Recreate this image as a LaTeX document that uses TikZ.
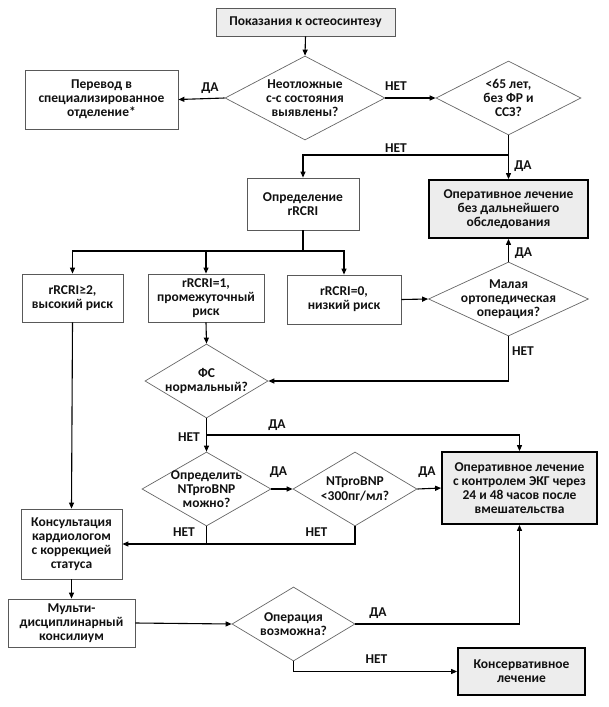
\documentclass[tikz,border=0pt]{standalone}
\usepackage{fontspec}
\setmainfont{Carlito}
\usetikzlibrary{arrows.meta,shapes.geometric,calc}
\definecolor{boxgray}{HTML}{EDEDED}
\definecolor{txt}{HTML}{111111}
\begin{document}
\begin{tikzpicture}[x=1pt,y=-1pt,
  every node/.style={font=\bfseries\fontsize{13.5}{14.2}\selectfont, text=txt},
  box/.style={draw=black!65, line width=0.8pt, align=center, inner sep=1pt},
  gbox/.style={box, fill=boxgray},
  tbox/.style={draw=black, line width=1.8pt, fill=boxgray, align=center, inner sep=1pt},
  dia/.style={diamond, draw=black!60, line width=0.7pt, inner sep=0pt},
  dlab/.style={align=center, inner sep=0pt},
  lab/.style={inner sep=0pt},
  arr/.style={-{Triangle[length=6pt,width=5pt]}, line width=1.1pt},
  plain/.style={line width=1.1pt}]
\useasboundingbox (0,0) rectangle (609,707);

% boxes
\node[gbox, minimum width=179pt, minimum height=28pt] (start) at (305.5,22) {Показания к остеосинтезу};
\node[box, minimum width=153pt, minimum height=59pt] (perevod) at (101.5,99.5) {Перевод в\\специализированное\\отделение*};
\node[box, minimum width=112pt, minimum height=52pt] (rcri) at (303,204) {Определение\\rRCRI};
\node[tbox, minimum width=159pt, minimum height=58pt] (op1) at (508.5,209) {Оперативное лечение\\без дальнейшего\\обследования};
\node[box, minimum width=101pt, minimum height=48pt] (r2) at (72.5,298) {rRCRI≥2,\\высокий риск};
\node[box, minimum width=116pt, minimum height=48pt] (r1) at (206,298) {rRCRI=1,\\промежуточный\\риск};
\node[box, minimum width=114pt, minimum height=49pt] (r0) at (344,299.5) {rRCRI=0,\\низкий риск};
\node[tbox, minimum width=155pt, minimum height=72pt] (op2) at (519.5,488) {Оперативное лечение\\с контролем ЭКГ через\\24 и 48 часов после\\вмешательства};
\node[box, minimum width=101pt, minimum height=70pt] (kons) at (71.5,544) {Консультация\\кардиологом\\с коррекцией\\статуса};
\node[box, minimum width=127pt, minimum height=48pt] (multi) at (71.5,623) {Мульти-\\дисциплинарный\\консилиум};
\node[tbox, minimum width=127pt, minimum height=47pt] (conserv) at (521.5,671.5) {Консервативное\\лечение};

% diamonds
\node[dia, minimum width=160pt, minimum height=84pt, label={[dlab]center:Неотложные\\с-с состояния\\выявлены?}] (d1) at (305,98) {};
\node[dia, minimum width=145pt, minimum height=74pt, label={[dlab]center:<65 лет,\\без ФР и\\ССЗ?}] (d2) at (508.5,98) {};
\node[dia, minimum width=160pt, minimum height=74pt, label={[dlab]center:Малая\\ортопедическая\\операция?}] (d3) at (508.5,299) {};
\node[dia, minimum width=123pt, minimum height=74pt, label={[dlab]center:ФС\\нормальный?}] (d4) at (206.5,381) {};
\node[dia, minimum width=129pt, minimum height=74pt, label={[dlab]center:Определить\\NTproBNP\\можно?}] (d5) at (206.5,489) {};
\node[dia, minimum width=124pt, minimum height=74pt, label={[dlab]center:NTproBNP\\<300пг/мл?}] (d6) at (355,489) {};
\node[dia, minimum width=123pt, minimum height=74pt, label={[dlab]center:Операция\\возможна?}] (d7) at (293.5,624) {};

% junctions
\coordinate (j1) at (508.5,155);
\coordinate (j2) at (303,251);
\coordinate (j3) at (206.5,435);

% connectors
\draw[arr] (start.south) -- (d1.north);
\draw[arr] (d1.west) -- (perevod.east);
\draw[arr] (d1.east) -- (d2.west);
\draw[plain] (d2.south) -- (j1);
\draw[arr] (j1) -- (op1.north);
\draw[arr] (j1) -| (rcri.north);
\draw[plain] (rcri.south) -- (j2);
\draw[arr] (j2) -| (r2.north);
\draw[arr] (j2) -| (r0.north);
\draw[arr] (r1.north |- j2) -- (r1.north);
\draw[arr] (r0.east) -- (d3.west);
\draw[arr] (d3.north) -- (op1.south);
\draw[arr] (d3.south) |- (d4.east);
\draw[arr] (r1.south) -- (d4.north);
\draw[plain] (d4.south) -- (j3);
\draw[arr] (j3) -- (d5.north);
\draw[arr] (j3) -| (op2.north);
\draw[arr] (d5.east) -- (d6.west);
\draw[arr] (d6.east) -- (op2.west);
\draw[arr] (d5.south) |- (kons.east);
\draw[plain] (d6.south) |- (d5.south |- kons.east);
\draw[arr] (r2.south) -- (kons.north);
\draw[arr] (kons.south) -- (multi.north);
\draw[arr] (multi.east) -- (d7.west);
\draw[arr] (d7.east) -| (op2.south);
\draw[arr] (d7.south) |- (conserv.west);

% labels
\node[lab] (l1) at (210,88) {ДА};
\node[lab] (l2) at (396,86) {НЕТ};
\node[lab] (l3) at (396,148) {НЕТ};
\node[lab] (l4) at (523,166) {ДА};
\node[lab] (l5) at (523.5,253) {ДА};
\node[lab] (l6) at (523,351) {НЕТ};
\node[lab] (l7) at (277,425) {ДА};
\node[lab] (l8) at (189,437) {НЕТ};
\node[lab] (l9) at (278.5,472) {ДА};
\node[lab] (l10) at (427,472) {ДА};
\node[lab] (l11) at (184,532) {НЕТ};
\node[lab] (l12) at (316.5,532) {НЕТ};
\node[lab] (l13) at (378,613) {ДА};
\node[lab] (l14) at (376.5,659) {НЕТ};
\end{tikzpicture}
\end{document}
